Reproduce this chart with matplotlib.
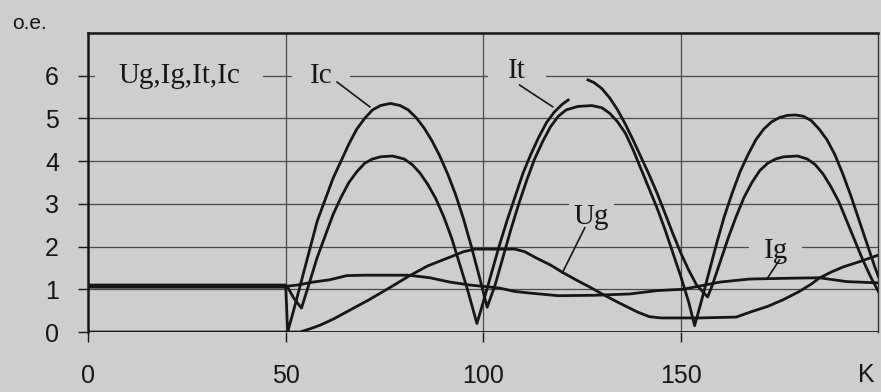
import numpy as np
import matplotlib
matplotlib.use("Agg")
from matplotlib import pyplot as plt

# K axis 0..200, relative units (o.e.)
k_ic = [0, 50, 50.5, 52, 54, 56, 58, 60, 62, 64, 66, 68, 70, 72, 74, 76.5, 79, 81, 83, 85, 87, 89, 91, 93, 95, 97, 99, 101,
        103, 105, 107, 109, 111, 113, 115, 117, 119, 121, 124, 127.5, 130, 132, 134, 136, 138, 140, 142, 144, 146, 148, 150, 152, 153.5,
        155, 157, 159, 161, 163, 165, 167, 169, 171, 173, 175, 177, 179, 181, 183, 185, 187, 189, 191, 193, 195, 197, 199, 200]
ic = [1.1, 1.1, 0.0, 0.5, 1.2, 1.9, 2.6, 3.1, 3.6, 4.0, 4.4, 4.75, 5.0, 5.2, 5.3, 5.35, 5.3, 5.2, 5.02, 4.78, 4.48, 4.12, 3.7, 3.22, 2.65, 2.0, 1.3, 0.58,
      1.1, 1.75, 2.4, 3.0, 3.55, 4.05, 4.45, 4.8, 5.05, 5.2, 5.28, 5.3, 5.25, 5.12, 4.92, 4.65, 4.25, 3.8, 3.35, 2.9, 2.4, 1.85, 1.3, 0.7, 0.15,
      0.65, 1.35, 2.05, 2.7, 3.25, 3.75, 4.15, 4.5, 4.75, 4.92, 5.02, 5.07, 5.08, 5.05, 4.95, 4.75, 4.5, 4.15, 3.7, 3.2, 2.65, 2.1, 1.55, 1.3]

k_it = [0, 50.5, 52, 54, 56, 58, 60, 62, 64, 66, 68, 70, 72, 74, 77, 80, 82, 84, 86, 88, 90, 92, 94, 96, 98.4,
        100, 102, 104, 106, 108, 110, 112, 114, 116, 118, 120, 121.5, 124, 126.5, 128, 130, 132, 134, 136, 138, 140, 142, 144, 146, 148,
        150, 152, 154, 156.8, 158, 160, 162, 164, 166, 168, 170, 172, 174, 176, 179.5, 182, 184, 186, 188, 190, 192, 194, 196, 198, 200]
it = [1.05, 1.05, 0.8, 0.56, 1.15, 1.75, 2.25, 2.75, 3.15, 3.5, 3.75, 3.95, 4.05, 4.1, 4.12, 4.05, 3.92, 3.72, 3.45, 3.12, 2.7, 2.2, 1.6, 1.0, 0.2,
      0.7, 1.35, 2.0, 2.6, 3.15, 3.7, 4.15, 4.55, 4.9, 5.15, 5.33, 5.43, np.nan, 5.9, 5.84, 5.7, 5.48, 5.2, 4.86, 4.48, 4.08, 3.68, 3.25, 2.78, 2.3,
      1.85, 1.45, 1.1, 0.82, 1.1, 1.65, 2.2, 2.7, 3.15, 3.5, 3.78, 3.95, 4.05, 4.1, 4.12, 4.05, 3.92, 3.7, 3.4, 3.05, 2.6, 2.15, 1.7, 1.3, 0.95]

k_ug = [0, 50, 53.6, 56, 58.7, 62, 66, 71, 76, 81.4, 86, 91.5, 95, 98, 108, 110.5, 113.5, 117, 120, 123.5, 127, 130.5, 134, 139, 142,
        145, 155, 164, 168, 172, 176, 180, 183, 185, 188, 191, 195, 200]
ug = [0, 0, 0, 0.07, 0.16, 0.3, 0.5, 0.75, 1.02, 1.32, 1.55, 1.75, 1.88, 1.94, 1.94, 1.88, 1.73, 1.57, 1.4, 1.22, 1.05, 0.87, 0.7, 0.47, 0.36,
      0.33, 0.33, 0.35, 0.48, 0.6, 0.76, 0.95, 1.12, 1.26, 1.4, 1.52, 1.64, 1.8]

k_ig = [0, 50, 53, 57, 61, 65.5, 70, 81, 86.5, 91.5, 96.6, 104, 108, 112, 119, 128, 137, 144, 150.5, 155, 160, 167.4, 178, 185, 192, 200]
ig = [1.07, 1.07, 1.1, 1.17, 1.22, 1.32, 1.33, 1.33, 1.27, 1.17, 1.1, 1.03, 0.95, 0.91, 0.85, 0.86, 0.89, 0.97, 1.0, 1.08, 1.17, 1.24, 1.26, 1.27, 1.18, 1.15]

x_ticks = [0, 50, 100, 150]
y_ticks = [0, 1, 2, 3, 4, 5, 6]

paper = '#cecece'
ink = '#161616'

fig = plt.figure(figsize=(8.81, 3.92), dpi=100, facecolor=paper)
ax = fig.add_axes([0.1, 0.153, 0.897, 0.763])
ax.set_facecolor(paper)

# grid
for y in y_ticks[1:]:
    ax.axhline(y, color='#4a4a4a', lw=0.9, zorder=1)
for x in x_ticks[1:]:
    ax.axvline(x, color='#4a4a4a', lw=0.9, zorder=1)

# curves
for kk, vv in [(k_ic, ic), (k_it, it), (k_ug, ug), (k_ig, ig)]:
    ax.plot(kk, vv, color=ink, lw=2.0, zorder=3, solid_joinstyle='round')

ax.set_xlim(0, 200)
ax.set_ylim(0, 7)
ax.axhline(0, color=ink, lw=2.0, zorder=4)

for s in ['top', 'left']:
    ax.spines[s].set_linewidth(1.8)
    ax.spines[s].set_color(ink)
ax.spines['right'].set_linewidth(1.0)
ax.spines['right'].set_color('#333333')
ax.spines['bottom'].set_visible(False)

ax.set_xticks(x_ticks)
ax.set_yticks(y_ticks)
ax.tick_params(direction='out', length=7, width=1.0, colors=ink, labelsize=18)
ax.tick_params(axis='x', pad=16)
ax.tick_params(axis='y', pad=14)
for lab in ax.get_xticklabels() + ax.get_yticklabels():
    lab.set_fontfamily('Liberation Sans')

# labels on the chart (below the curves, boxes only hide the grid)
serif = dict(family='Liberation Serif', fontsize=21, color=ink, zorder=2)
ax.text(23, 6.0, 'Ug,Ig,It,Ic', ha='center', va='center', bbox=dict(boxstyle='square,pad=0.8', fc=paper, ec='none'), **serif)
ax.text(59, 6.0, 'Ic', ha='center', va='center', bbox=dict(boxstyle='square,pad=0.6', fc=paper, ec='none'), **serif)
ax.text(108.5, 6.12, 'It', ha='center', va='center', bbox=dict(boxstyle='square,pad=0.7', fc=paper, ec='none'), **serif)
ax.text(127.4, 2.69, 'Ug', ha='center', va='center', bbox=dict(boxstyle='square,pad=0.15', fc=paper, ec='none'), **serif)
ax.text(174, 1.9, 'Ig', ha='center', va='center', bbox=dict(boxstyle='square,pad=0.5', fc=paper, ec='none'), **serif)

ax.plot([63, 71.3], [5.85, 5.27], color=ink, lw=1.2, zorder=5)
ax.plot([109.2, 117.6], [5.78, 5.27], color=ink, lw=1.2, zorder=5)
ax.plot([125.7, 120], [2.44, 1.38], color=ink, lw=1.2, zorder=5)
ax.plot([175, 172], [1.69, 1.27], color=ink, lw=1.2, zorder=5)

ax.text(197, -1.0, 'K', ha='center', va='center', fontsize=18, family='Liberation Sans', color=ink)
fig.text(0.034, 0.94, 'o.e.', ha='center', va='center', fontsize=15, family='Liberation Sans', color=ink)

fig.savefig('out.png', dpi=100, facecolor=paper)
